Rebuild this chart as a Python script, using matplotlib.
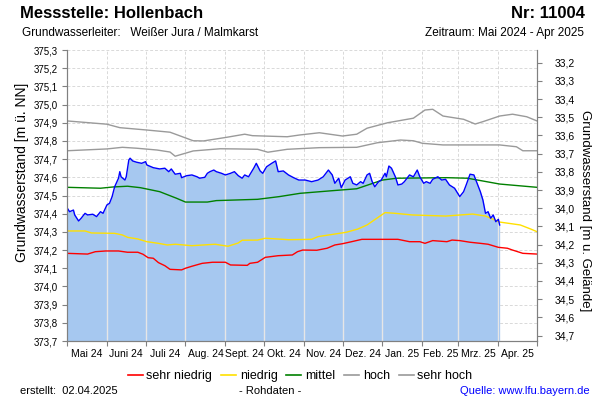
import numpy as np
import pandas as pd
import matplotlib
matplotlib.use("Agg")
import matplotlib.pyplot as plt
import matplotlib.dates as mdates
from matplotlib.lines import Line2D
from matplotlib.ticker import FixedLocator, FuncFormatter, NullFormatter

plt.rcParams['font.family'] = ['Liberation Sans', 'DejaVu Sans']

# Start of the period and ground level (m ü. NN) of the well
START = pd.Timestamp("2024-05-01")
GELAENDE = 408.43

# Observed level (days since 1 May 2024, m ü. NN)
obs_tag = [0, 2, 5, 6, 9, 11, 14, 16, 20, 23,
           26, 28, 31, 33, 35, 37, 40, 41, 42, 45,
           46, 48, 49, 51, 54, 58, 61, 62, 67, 72,
           76, 79, 81, 84, 88, 89, 93, 97, 101, 103,
           107, 109, 111, 114, 116, 120, 123, 127, 130, 133,
           136, 138, 141, 145, 147, 150, 152, 155, 159, 162,
           164, 168, 172, 176, 180, 185, 190, 195, 199, 203,
           206, 208, 211, 213, 216, 220, 222, 225, 228, 230,
           233, 235, 237, 239, 242, 244, 247, 248, 250, 252,
           255, 257, 260, 262, 266, 269, 272, 274, 277, 279,
           282, 284, 288, 291, 294, 297, 301, 305, 308, 310,
           313, 316, 318, 321, 323, 325, 327, 329, 331, 333,
           335, 336]
obs_wert = [374.433, 374.411, 374.420, 374.393, 374.360, 374.375, 374.402, 374.393, 374.397, 374.384,
            374.411, 374.402, 374.448, 374.457, 374.493, 374.548, 374.595, 374.631, 374.603, 374.585,
            374.603, 374.695, 374.705, 374.690, 374.683, 374.677, 374.686, 374.668, 374.653, 374.646,
            374.650, 374.631, 374.646, 374.617, 374.622, 374.598, 374.609, 374.613, 374.603, 374.595,
            374.600, 374.622, 374.631, 374.640, 374.631, 374.622, 374.613, 374.622, 374.631, 374.609,
            374.595, 374.613, 374.603, 374.650, 374.677, 374.635, 374.622, 374.658, 374.677, 374.690,
            374.631, 374.635, 374.613, 374.598, 374.585, 374.585, 374.576, 374.585, 374.603, 374.640,
            374.613, 374.567, 374.595, 374.543, 374.585, 374.603, 374.567, 374.558, 374.576, 374.567,
            374.613, 374.622, 374.576, 374.548, 374.576, 374.585, 374.622, 374.603, 374.662, 374.650,
            374.603, 374.558, 374.563, 374.576, 374.613, 374.603, 374.640, 374.603, 374.567, 374.576,
            374.567, 374.589, 374.603, 374.585, 374.589, 374.558, 374.540, 374.494, 374.521, 374.558,
            374.617, 374.613, 374.576, 374.521, 374.475, 374.402, 374.411, 374.375, 374.393, 374.356,
            374.369, 374.338]

# Reference levels
sehr_hoch_tag = [0, 31, 41, 62, 80, 98, 106, 124, 138, 144, 171, 181, 196, 214,
                 225, 233, 249, 269, 278, 284, 292, 308, 317, 323, 336, 346, 357, 365]
sehr_hoch = [374.910, 374.892, 374.873, 374.860, 374.848, 374.801, 374.800, 374.820, 374.837, 374.829,
             374.823, 374.833, 374.845, 374.827, 374.837, 374.870, 374.900, 374.925, 374.970, 374.974,
             374.937, 374.919, 374.893, 374.906, 374.937, 374.947, 374.933, 374.910]

hoch_tag = [0, 31, 43, 54, 70, 80, 84, 98, 119, 132, 148, 156, 171, 196,
            225, 241, 259, 269, 276, 292, 336, 349, 354, 365]
hoch = [374.746, 374.756, 374.765, 374.760, 374.750, 374.739, 374.716, 374.745, 374.757, 374.756,
        374.754, 374.738, 374.754, 374.763, 374.765, 374.790, 374.805, 374.801, 374.787, 374.778,
        374.778, 374.768, 374.746, 374.746]

mittel_tag = [0, 26, 36, 47, 57, 72, 85, 92, 109, 116, 148, 165, 181, 207,
              225, 245, 256, 295, 311, 336, 365]
mittel = [374.545, 374.540, 374.547, 374.551, 374.543, 374.521, 374.485, 374.464, 374.464, 374.472,
          374.479, 374.494, 374.512, 374.527, 374.537, 374.585, 374.595, 374.598, 374.595, 374.563,
          374.545]

niedrig_tag = [0, 14, 19, 37, 43, 47, 55, 62, 71, 78, 84, 97, 115, 125, 133, 136, 148, 154,
               172, 190, 195, 207, 217, 226, 233, 247, 255, 268, 294, 315, 325, 336, 352, 360, 365]
niedrig = [374.305, 374.305, 374.294, 374.292, 374.283, 374.270, 374.261, 374.246, 374.237, 374.228,
           374.232, 374.224, 374.232, 374.221, 374.239, 374.254, 374.255, 374.265, 374.257, 374.259,
           374.274, 374.287, 374.298, 374.316, 374.338, 374.406, 374.402, 374.393, 374.387, 374.398,
           374.387, 374.354, 374.338, 374.316, 374.301]

sehr_niedrig_tag = [0, 16, 22, 30, 40, 47, 55, 59, 63, 67,
                    71, 76, 80, 89, 92, 97, 105, 113, 123, 127,
                    140, 142, 148, 154, 164, 175, 179, 183, 194, 202,
                    208, 214, 221, 229, 257, 266, 274, 278, 284, 295,
                    299, 305, 313, 321, 327, 335, 342, 346, 354, 365]
sehr_niedrig = [374.182, 374.178, 374.191, 374.195, 374.195, 374.188, 374.188, 374.177, 374.158, 374.155,
                374.131, 374.114, 374.094, 374.091, 374.100, 374.111, 374.127, 374.133, 374.133, 374.118,
                374.116, 374.127, 374.133, 374.160, 374.169, 374.173, 374.191, 374.200, 374.199, 374.210,
                374.228, 374.235, 374.246, 374.259, 374.259, 374.246, 374.246, 374.237, 374.252, 374.246,
                374.255, 374.252, 374.243, 374.237, 374.232, 374.215, 374.210, 374.200, 374.182, 374.178]

monat_labels = ["Mai 24", "Juni 24", "Juli 24", "Aug. 24", "Sept. 24", "Okt. 24",
                "Nov. 24", "Dez. 24", "Jan. 25", "Feb. 25", "Mrz. 25", "Apr. 25"]


def to_dates(tage):
    return START + pd.to_timedelta(tage, unit="D")


def komma(v, _):
    return f"{v:.1f}".replace(".", ",")


def monat(v, pos):
    return monat_labels[pos] if pos is not None and pos < len(monat_labels) else ""


Y_MIN, Y_MAX = 373.7, 375.3
grau = "#808080"
linie_grau = "#9a9a9a"

fig = plt.figure(figsize=(6, 4), dpi=100)
ax = fig.add_axes([67 / 600, 59 / 400, 470 / 600, 291 / 400])

# month boundaries and label positions
grenzen = pd.date_range(START, periods=13, freq="MS")
mitten = grenzen[:-1] + (grenzen[1:] - grenzen[:-1]) / 2

# background grid
for y in np.arange(3737, 3754) / 10:
    ax.axhline(y, color="#d9d9d9", lw=0.7, ls=(0, (3, 2)), zorder=0)
for g in grenzen[1:-1]:
    ax.axvline(g, color="#d9d9d9", lw=0.7, ls=(0, (3, 2)), zorder=0)

# observed level with fill, month lines drawn light inside the fill
obs_x = to_dates(obs_tag)
fill = ax.fill_between(obs_x, Y_MIN, obs_wert, color="#a6c8f0", lw=0, zorder=1)
clip = fill.get_paths()[0]
for g in grenzen[1:-1]:
    vl = ax.axvline(g, color="#e6e6e6", lw=1.0, zorder=1.5)
    vl.set_clip_path(clip, ax.transData)

ax.plot(to_dates(sehr_hoch_tag), sehr_hoch, color=linie_grau, lw=1.0, zorder=2)
ax.plot(to_dates(hoch_tag), hoch, color=linie_grau, lw=1.0, zorder=2)
ax.plot(to_dates(mittel_tag), mittel, color="#008000", lw=1.0, zorder=2)
ax.plot(to_dates(niedrig_tag), niedrig, color="#ffe000", lw=1.0, zorder=2)
ax.plot(to_dates(sehr_niedrig_tag), sehr_niedrig, color="#ff0000", lw=1.0, zorder=2)
ax.plot(obs_x, obs_wert, color="#0000ff", lw=1.0, zorder=3)

ax.set_xlim(grenzen[0], grenzen[-1])
ax.set_ylim(Y_MIN, Y_MAX)

# left axis
ax.yaxis.set_major_locator(FixedLocator(np.arange(3737, 3754) / 10))
ax.yaxis.set_major_formatter(FuncFormatter(komma))
ax.tick_params(axis="y", length=3.5, width=0.8, color=grau, labelsize=7, pad=3)

# x axis: ticks at month boundaries, labels in the middle
ax.xaxis.set_major_locator(FixedLocator(mdates.date2num(grenzen)))
ax.xaxis.set_major_formatter(NullFormatter())
ax.xaxis.set_minor_locator(FixedLocator(mdates.date2num(mitten)))
ax.xaxis.set_minor_formatter(FuncFormatter(monat))
ax.tick_params(axis="x", which="major", length=3.5, width=0.8, color=grau)
ax.tick_params(axis="x", which="minor", length=0, labelsize=7.5, pad=6)

for s in ["left", "right", "bottom"]:
    ax.spines[s].set_color(grau)
ax.spines["top"].set_visible(False)

# right axis: depth below ground
ax2 = ax.twinx()
ax2.set_ylim(GELAENDE - Y_MIN, GELAENDE - Y_MAX)
ax2.yaxis.set_major_locator(FixedLocator(np.arange(332, 348) / 10))
ax2.yaxis.set_major_formatter(FuncFormatter(komma))
ax2.tick_params(axis="y", length=3.5, width=0.8, color=grau, labelsize=7.5, pad=9)
for s in ["left", "right", "bottom"]:
    ax2.spines[s].set_color(grau)
ax2.spines["top"].set_visible(False)

# axis titles
fig.text(22 / 600, 1 - 172 / 400, "Grundwasserstand [m ü. NN]", rotation=90,
         ha="center", va="center", fontsize=10)
fig.text(585 / 600, 1 - 211 / 400, "Grundwasserstand [m u. Gelände]", rotation=270,
         ha="center", va="center", fontsize=9.5)

# header
fig.text(20 / 600, 1 - 14 / 400, "Messstelle: Hollenbach", fontsize=12,
         fontweight="bold", ha="left", va="center")
fig.text(585 / 600, 1 - 14 / 400, "Nr: 11004", fontsize=12,
         fontweight="bold", ha="right", va="center")
fig.text(22 / 600, 1 - 33 / 400, "Grundwasserleiter:   Weißer Jura / Malmkarst",
         fontsize=8.5, ha="left", va="center")
fig.text(584 / 600, 1 - 33 / 400, "Zeitraum: Mai 2024 - Apr 2025",
         fontsize=8.5, ha="right", va="center")

# legend
legend_farben = ["#ff0000", "#ffe000", "#008000", linie_grau, linie_grau]
handles = [Line2D([], [], color=c, lw=1.2) for c in legend_farben]
fig.legend(handles, ["sehr niedrig", "niedrig", "mittel", "hoch", "sehr hoch"],
           loc="center", bbox_to_anchor=(0.5, 1 - 376 / 400), ncol=5, frameon=False,
           fontsize=9, handlelength=1.2, handletextpad=0.3, columnspacing=0.7)

# footer
fig.text(20 / 600, 1 - 391 / 400, "erstellt:  02.04.2025", fontsize=8, ha="left", va="center")
fig.text(270 / 600, 1 - 391 / 400, "- Rohdaten -", fontsize=8, ha="center", va="center")
fig.text(590 / 600, 1 - 391 / 400, "Quelle: www.lfu.bayern.de", fontsize=8,
         ha="right", va="center", color="#0000ff")

fig.savefig("out.png", dpi=100)
